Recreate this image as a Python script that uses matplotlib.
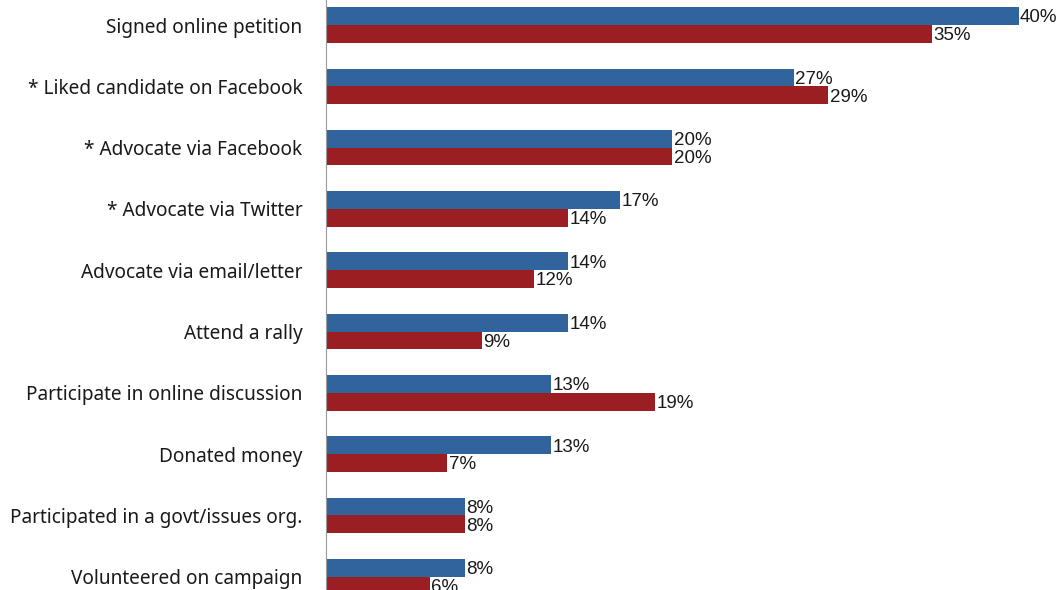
import matplotlib
matplotlib.use("Agg")
import matplotlib.pyplot as plt
import numpy as np

# data
categories = [
    "Signed online petition",
    "* Liked candidate on Facebook",
    "* Advocate via Facebook",
    "* Advocate via Twitter",
    "Advocate via email/letter",
    "Attend a rally",
    "Participate in online discussion",
    "Donated money",
    "Participated in a govt/issues org.",
    "Volunteered on campaign",
]
blue_values = [40, 27, 20, 17, 14, 14, 13, 13, 8, 8]
red_values = [35, 29, 20, 14, 12, 9, 19, 7, 8, 6]

BLUE = "#31649C"
RED = "#9B1E22"

plt.rcParams["font.family"] = ["Noto Sans", "DejaVu Sans"]

fig = plt.figure(figsize=(10.62, 5.90), dpi=100)
ax = fig.add_axes([326 / 1062, 0, 1 - 326 / 1062, 1])

y = np.arange(len(categories))
h = 0.29
ax.barh(y - h / 2, blue_values, height=h, color=BLUE, zorder=2)
ax.barh(y + h / 2, red_values, height=h, color=RED, zorder=2)

val_font = ["Liberation Sans Narrow", "Liberation Sans", "DejaVu Sans"]
for i, (b, r) in enumerate(zip(blue_values, red_values)):
    ax.text(b + 0.08, i - h / 2 + 0.03, f"{b}%", va="center", ha="left",
            fontsize=13.5, color="#1a1a1a", family=val_font)
    ax.text(r + 0.08, i + h / 2 + 0.03, f"{r}%", va="center", ha="left",
            fontsize=13.5, color="#1a1a1a", family=val_font)

ax.set_xlim(0, 42.5)
ax.set_ylim(9.217, -0.408)
ax.set_yticks(y)
ax.set_yticklabels(categories, fontsize=13.7, color="#1a1a1a")
ax.tick_params(axis="y", length=0, pad=17)
ax.set_xticks([])

for s in ["top", "right", "bottom"]:
    ax.spines[s].set_visible(False)
ax.spines["left"].set_color("#9a9a9a")
ax.spines["left"].set_linewidth(0.8)

fig.savefig("out.png", dpi=100)
